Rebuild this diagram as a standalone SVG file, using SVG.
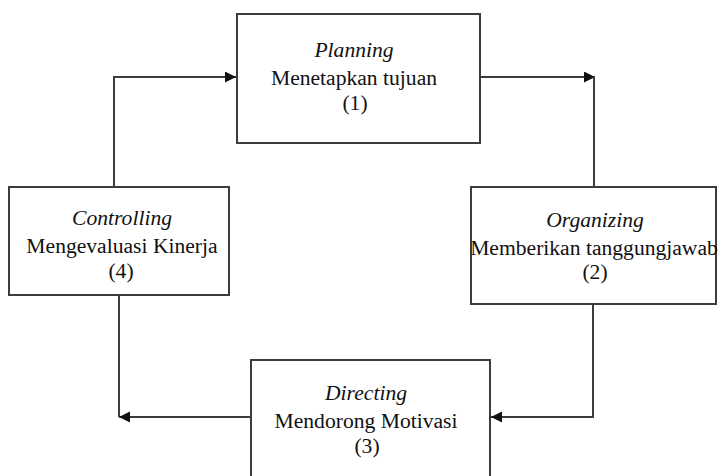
<svg xmlns="http://www.w3.org/2000/svg" width="721" height="476" viewBox="0 0 721 476">
  <style>
    .box { fill: #ffffff; stroke: #3c3c3c; stroke-width: 2; }
    .conn { fill: none; stroke: #3c3c3c; stroke-width: 2; }
    .t { font-family: "Liberation Serif", "Times New Roman", serif; font-size: 21.6px; fill: #111111; text-anchor: middle; }
    .it { font-style: italic; }
  </style>
  <defs>
    <marker id="arrow" markerUnits="userSpaceOnUse" markerWidth="12" markerHeight="12" refX="11" refY="5.5" orient="auto">
      <path d="M0,0 L11,5.5 L0,11 z" fill="#111111"/>
    </marker>
  </defs>
  <rect width="721" height="476" fill="#ffffff"/>

  <g id="connectors">
    <path class="conn" d="M114,187 V77 H236" marker-end="url(#arrow)"/>
    <path class="conn" d="M480,77 H595" marker-end="url(#arrow)"/>
    <path class="conn" d="M594,77 V187"/>
    <path class="conn" d="M593,304 V417 H491" marker-end="url(#arrow)"/>
    <path class="conn" d="M119,295 V417"/>
    <path class="conn" d="M251,417 H119" marker-end="url(#arrow)"/>
  </g>

  <g id="planning">
    <rect class="box" x="237" y="14" width="243" height="129"/>
    <text class="t it" x="354" y="57">Planning</text>
    <text class="t" x="354" y="85">Menetapkan tujuan</text>
    <text class="t" x="355" y="110">(1)</text>
  </g>

  <g id="organizing">
    <rect class="box" x="471" y="187" width="245" height="117"/>
    <text class="t it" x="595" y="227">Organizing</text>
    <text class="t" x="594" y="255">Memberikan tanggungjawab</text>
    <text class="t" x="595" y="279">(2)</text>
  </g>

  <g id="directing">
    <rect class="box" x="251" y="360" width="239" height="120"/>
    <text class="t it" x="366" y="400">Directing</text>
    <text class="t" x="366" y="428">Mendorong Motivasi</text>
    <text class="t" x="367" y="453">(3)</text>
  </g>

  <g id="controlling">
    <rect class="box" x="9" y="187" width="220" height="108"/>
    <text class="t it" x="122" y="225">Controlling</text>
    <text class="t" x="122" y="253">Mengevaluasi Kinerja</text>
    <text class="t" x="121" y="278">(4)</text>
  </g>
</svg>
